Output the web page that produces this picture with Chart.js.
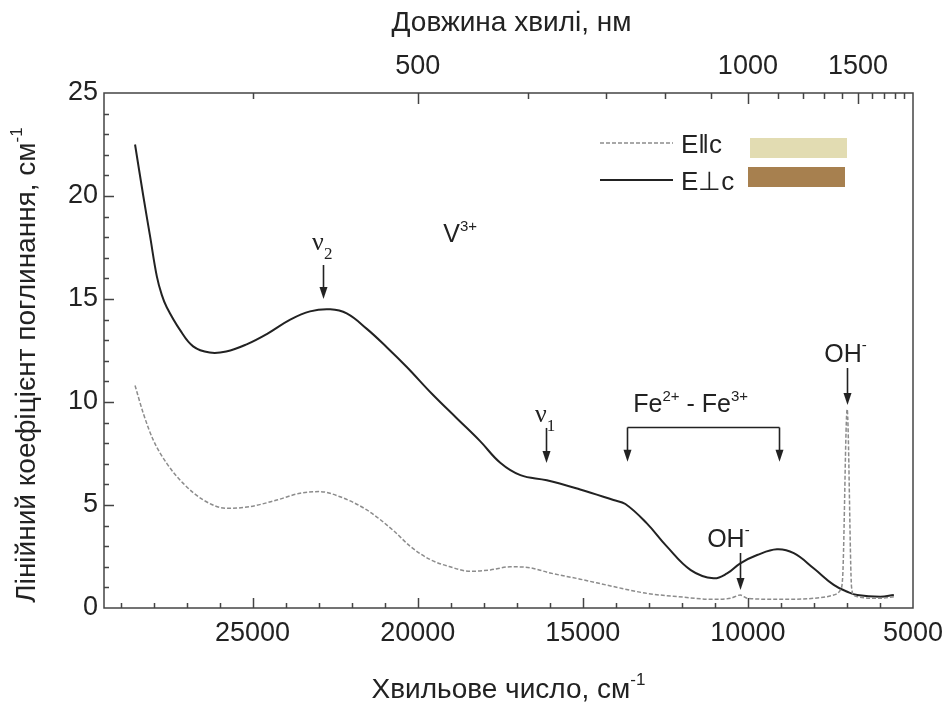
<!DOCTYPE html>
<html>
<head>
<meta charset="utf-8">
<script src="https://cdn.jsdelivr.net/npm/chart.js@4.4.0/dist/chart.umd.min.js"></script>
<style>
  html, body { margin: 0; padding: 0; background: #fff; }
</style>
</head>
<body>
<canvas id="absChart" width="945" height="707"></canvas>
<script>
const SANS = '"Liberation Sans", Arial, sans-serif';
const SERIF = '"Liberation Serif", "Times New Roman", serif';

// E⊥c (solid)
const perpWavenumber = [28560, 28310, 28100, 27900, 27750, 27600, 27200, 26800, 26300, 25800, 25180, 24570, 23860, 23260, 22650, 22150, 21540, 20930, 20330, 19570, 18810, 18110, 17500, 16890, 16090, 15080, 14070, 13710, 13060, 12450, 11730, 11040, 10630, 10230, 9720, 9120, 8610, 8010, 7400, 6990, 6690, 5990, 5580];
const perpAbsorption = [22.5, 20.0, 18.0, 16.1, 15.2, 14.6, 13.5, 12.7, 12.4, 12.45, 12.8, 13.3, 14.0, 14.4, 14.5, 14.3, 13.55, 12.65, 11.7, 10.4, 9.2, 8.1, 7.05, 6.45, 6.2, 5.75, 5.24, 5.05, 4.11, 2.98, 1.84, 1.44, 1.68, 2.17, 2.57, 2.85, 2.66, 1.93, 1.12, 0.79, 0.63, 0.55, 0.63];

// E||c (dotted)
const parWavenumber = [28560, 28310, 28010, 27600, 27100, 26490, 25780, 25080, 24270, 23560, 22960, 22350, 21540, 20730, 20230, 19620, 19020, 18410, 17800, 17200, 16590, 15990, 15080, 14070, 13060, 12110, 11040, 10530, 10230, 10020, 9020, 8010, 7400, 7200, 7130, 6994, 6860, 6780, 6690, 5990, 5580];
const parAbsorption = [10.8, 9.45, 8.16, 7.02, 6.05, 5.24, 4.84, 4.92, 5.24, 5.57, 5.65, 5.4, 4.76, 3.75, 3.0, 2.35, 2.0, 1.78, 1.85, 2.0, 1.95, 1.7, 1.4, 1.04, 0.71, 0.55, 0.42, 0.47, 0.63, 0.47, 0.42, 0.47, 0.63, 0.87, 1.5, 9.65, 1.0, 0.6, 0.55, 0.47, 0.55];

const wavenumberTicks = [5000, 10000, 15000, 20000, 25000];
const absorptionTicks = [0, 5, 10, 15, 20, 25];
const wavelengthLabels = [500, 1000, 1500];
const wavelengthMinor = [400, 600, 700, 800, 900, 1100, 1200, 1300, 1400, 1600, 1700, 1800, 1900, 2000];

// annotation anchors in data units (wavenumber, absorption)
const arrows = [
  { x: 22864, y1: 16.65, y2: 15.0 },
  { x: 16115, y1: 8.74, y2: 7.04 },
  { x: 6994, y1: 11.65, y2: 9.85 },
  { x: 10227, y1: 2.67, y2: 0.87 }
];

const toPoints = (xs, ys) => xs.map((x, i) => ({ x: x, y: ys[i] }));

function richText(c, parts, x, y, align) {
  let w = 0;
  parts.forEach(p => { c.font = p.font; w += c.measureText(p.t).width; });
  let cx = align === 'center' ? x - w / 2 : x;
  parts.forEach(p => {
    c.font = p.font;
    c.fillText(p.t, cx, y + (p.dy || 0));
    cx += c.measureText(p.t).width;
  });
}

function arrowDown(c, x, yTop, yTip) {
  c.beginPath();
  c.moveTo(x, yTop);
  c.lineTo(x, yTip - 10);
  c.stroke();
  c.beginPath();
  c.moveTo(x - 4, yTip - 12);
  c.lineTo(x + 4, yTip - 12);
  c.lineTo(x, yTip);
  c.closePath();
  c.fill();
}

const decorPlugin = {
  id: 'decor',
  afterDraw(chart) {
    const c = chart.ctx;
    const a = chart.chartArea;
    const xs = chart.scales.x;
    const ys = chart.scales.y;
    c.save();

    // frame and inward ticks
    c.strokeStyle = '#444';
    c.lineWidth = 1.5;
    c.strokeRect(a.left, a.top, a.right - a.left, a.bottom - a.top);
    c.beginPath();
    for (let v = 6000; v < 29500; v += 1000) {
      const px = Math.round(xs.getPixelForValue(v)) + 0.5;
      const len = v % 5000 === 0 ? 10 : 5;
      c.moveTo(px, a.bottom); c.lineTo(px, a.bottom - len);
    }
    for (let v = 1; v < 25; v++) {
      const py = Math.round(ys.getPixelForValue(v)) + 0.5;
      const len = v % 5 === 0 ? 10 : 5;
      c.moveTo(a.left, py); c.lineTo(a.left + len, py);
    }
    wavelengthLabels.concat(wavelengthMinor).forEach(nm => {
      const px = Math.round(xs.getPixelForValue(1e7 / nm)) + 0.5;
      if (px < a.left || px > a.right) return;
      const len = wavelengthLabels.includes(nm) ? 11 : 6;
      c.moveTo(px, a.top); c.lineTo(px, a.top + len);
    });
    c.stroke();

    // axis titles
    c.fillStyle = '#222';
    c.textBaseline = 'alphabetic';
    const tf = '28px ' + SANS;
    const sf = '17px ' + SANS;
    richText(c, [{ t: 'Довжина хвилі, нм', font: tf }], (a.left + a.right) / 2 + 3, 31, 'center');
    richText(c, [{ t: 'Хвильове число, см', font: tf }, { t: '-1', font: sf, dy: -13 }], (a.left + a.right) / 2, 698, 'center');
    c.save();
    c.translate(35, 365);
    c.rotate(-Math.PI / 2);
    richText(c, [{ t: 'Лінійний коефіцієнт поглинання, см', font: tf }, { t: '-1', font: sf, dy: -13 }], 0, 0, 'center');
    c.restore();

    // annotations
    const X = v => xs.getPixelForValue(v);
    const Y = v => ys.getPixelForValue(v);
    const af = '25px ' + SANS;
    const asf = '15px ' + SANS;
    const nf = '26px ' + SERIF;
    const nsf = '17px ' + SERIF;
    richText(c, [{ t: 'ν', font: nf }, { t: '2', font: nsf, dy: 9 }], X(22864) - 11, Y(17.4), 'left');
    richText(c, [{ t: 'V', font: af }, { t: '3+', font: asf, dy: -11 }], X(19227), Y(17.77), 'left');
    richText(c, [{ t: 'ν', font: nf }, { t: '1', font: nsf, dy: 9 }], X(16115) - 11, Y(9.03), 'left');
    richText(c, [{ t: 'Fe', font: af }, { t: '2+', font: asf, dy: -11 }, { t: ' - Fe', font: af }, { t: '3+', font: asf, dy: -11 }], X(13470), Y(9.53), 'left');
    richText(c, [{ t: 'OH', font: af }, { t: '-', font: asf, dy: -12 }], X(7045), Y(11.94), 'center');
    richText(c, [{ t: 'OH', font: af }, { t: '-', font: asf, dy: -12 }], X(10590), Y(2.96), 'center');

    c.strokeStyle = '#222';
    c.lineWidth = 1.6;
    arrows.forEach(ar => {
      arrowDown(c, Math.round(X(ar.x)) + 0.5, Y(ar.y1), Y(ar.y2));
    });
    // Fe2+ - Fe3+ bracket
    const bl = Math.round(X(13660)) + 0.5, br = Math.round(X(9067)) + 0.5, by = Math.round(Y(8.8)) + 0.5;
    c.beginPath();
    c.moveTo(bl, by); c.lineTo(br, by);
    c.stroke();
    arrowDown(c, bl, by, Y(7.1));
    arrowDown(c, br, by, Y(7.1));

    // legend
    const lx = a.left + 496, ly = a.top + 50;
    const ds = chart.data.datasets;
    [0, 1].forEach(i => {
      const yy = ly + i * 37;
      c.strokeStyle = ds[i].borderColor;
      c.lineWidth = ds[i].borderWidth;
      c.setLineDash(ds[i].borderDash || []);
      c.beginPath(); c.moveTo(lx, yy); c.lineTo(lx + 73, yy); c.stroke();
      c.setLineDash([]);
      c.fillStyle = '#222';
      c.font = '26px ' + SANS;
      c.fillText(ds[i].label, lx + 81, yy + 10);
    });
    c.fillStyle = '#e2dcb2';
    c.fillRect(lx + 150, ly - 5, 97, 20);
    c.fillStyle = '#a7804f';
    c.fillRect(lx + 148, ly + 24, 97, 20);

    c.restore();
  }
};

const ctx = document.getElementById('absChart').getContext('2d');
const absChart = new Chart(ctx, {
  type: 'line',
  data: {
    datasets: [
      {
        label: 'E‖c',
        data: toPoints(parWavenumber, parAbsorption),
        borderColor: '#8c8c8c',
        borderWidth: 1.5,
        borderDash: [4, 2],
        pointRadius: 0,
        cubicInterpolationMode: 'monotone',
        fill: false
      },
      {
        label: 'E⊥c',
        data: toPoints(perpWavenumber, perpAbsorption),
        borderColor: '#222222',
        borderWidth: 2,
        pointRadius: 0,
        tension: 0.4,
        fill: false
      }
    ]
  },
  options: {
    responsive: false,
    animation: false,
    layout: { padding: { left: 0, right: 32, top: 0, bottom: 0 } },
    plugins: { legend: { display: false }, tooltip: { enabled: false } },
    scales: {
      x: {
        type: 'linear', position: 'bottom', min: 5000, max: 29500, reverse: true,
        afterBuildTicks: s => { s.ticks = wavenumberTicks.map(v => ({ value: v })); },
        afterFit: s => { s.height = 99; },
        grid: { display: false, drawTicks: false },
        border: { display: false },
        ticks: { font: { family: SANS, size: 27 }, color: '#222', padding: 9, maxRotation: 0, autoSkip: false, callback: v => String(v) }
      },
      x2: {
        type: 'linear', position: 'top', min: 5000, max: 29500, reverse: true,
        afterBuildTicks: s => { s.ticks = wavelengthLabels.map(nm => ({ value: 1e7 / nm })); },
        afterFit: s => { s.height = 93; },
        grid: { display: false, drawTicks: false },
        border: { display: false },
        ticks: { font: { family: SANS, size: 27 }, color: '#222', padding: 10, maxRotation: 0, autoSkip: false, callback: v => String(Math.round(1e7 / v)) }
      },
      y: {
        type: 'linear', min: 0, max: 25,
        afterBuildTicks: s => { s.ticks = absorptionTicks.map(v => ({ value: v })); },
        afterFit: s => { s.width = 104; },
        grid: { display: false, drawTicks: false },
        border: { display: false },
        ticks: { font: { family: SANS, size: 27 }, color: '#222', padding: 6, callback: v => String(v) }
      }
    }
  },
  plugins: [decorPlugin]
});
</script>
</body>
</html>
